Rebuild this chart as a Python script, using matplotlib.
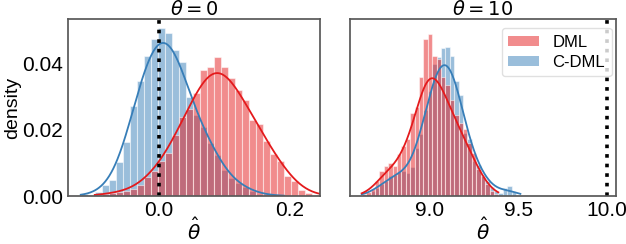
import numpy as np
import matplotlib
matplotlib.use('Agg')
import matplotlib.pyplot as plt
from matplotlib.patches import Patch

plt.rcParams['font.family'] = ['Liberation Sans', 'DejaVu Sans']

# histogram bins (common bins for both methods in each panel)
left_start, left_width, left_nbins = -0.1195, 0.0107, 35
right_start, right_width, right_nbins = 8.614, 0.02489, 36

# bar heights (probability)
dml_left = [0, 0, 0.0003, 0.0007, 0.0009, 0.0012, 0.0015, 0.0022, 0.0033, 0.0058,
            0.0076, 0.0107, 0.0129, 0.0185, 0.0239, 0.0263, 0.0312, 0.0383, 0.0391, 0.0422,
            0.0391, 0.0358, 0.0322, 0.0290, 0.0231, 0.0218, 0.0167, 0.0128, 0.0107, 0.0061,
            0.0046, 0.0017, 0.0009, 0.0003, 0.0002]
cdml_left = [0.0006, 0.0003, 0.0012, 0.0033, 0.0048, 0.0104, 0.0165, 0.0273, 0.0349, 0.0424,
             0.0474, 0.0508, 0.0493, 0.0442, 0.0406, 0.0299, 0.0246, 0.0210, 0.0160, 0.0124,
             0.0078, 0.0053, 0.0038, 0.0027, 0.0015, 0.0007, 0.0004, 0.0002, 0.0001, 0,
             0, 0, 0, 0, 0]
dml_right = [0.0006, 0.0012, 0.0020, 0.0045, 0.0075, 0.0092, 0.0099, 0.0090, 0.0128, 0.0150,
             0.0172, 0.0250, 0.0270, 0.0360, 0.0474, 0.0490, 0.0423, 0.0415, 0.0360, 0.0335,
             0.0292, 0.0246, 0.0220, 0.0202, 0.0160, 0.0129, 0.0081, 0.0061, 0.0035, 0.0015,
             0.0007, 0, 0, 0, 0, 0]
cdml_right = [0.0003, 0.0006, 0.0015, 0.0025, 0.0035, 0.0045, 0.0060, 0.0065, 0.0072, 0.0075,
              0.0070, 0.0088, 0.0144, 0.0188, 0.0261, 0.0317, 0.0400, 0.0420, 0.0449, 0.0451,
              0.0423, 0.0349, 0.0307, 0.0190, 0.0173, 0.0106, 0.0094, 0.0065, 0.0045, 0.0027,
              0.0015, 0.0010, 0.0023, 0.0030, 0.0012, 0.0003]

true_theta = [0, 10]
titles = [r'$\theta = 0$', r'$\theta = 10$']
labels = ['DML', 'C-DML']
red, blue = '#e41a1c', '#377eb8'


def kde_curve(edges, heights, n_obs=110):
    # smoothed curve from the binned values, scaled like the histogram
    heights = np.asarray(heights, dtype=float)
    centers = (edges[:-1] + edges[1:]) / 2
    width = edges[1] - edges[0]
    nz = np.nonzero(heights)[0]
    lo, hi = edges[nz[0]], edges[nz[-1] + 1]
    w = heights / heights.sum()
    mu = np.sum(w * centers)
    sd = np.sqrt(np.sum(w * (centers - mu) ** 2))
    bw = sd * n_obs ** (-0.2)
    xs = np.linspace(lo, hi, 300)
    dens = np.sum(w[:, None] * np.exp(-0.5 * ((xs[None, :] - centers[:, None]) / bw) ** 2), axis=0)
    dens /= bw * np.sqrt(2 * np.pi)
    return xs, dens * 0.5 * width


fig = plt.figure(figsize=(6.26, 2.44), dpi=100)
ax1 = fig.add_axes([68 / 626, 48 / 244, 252 / 626, 177 / 244])
ax2 = fig.add_axes([350 / 626, 48 / 244, 266 / 626, 177 / 244], sharey=ax1)

panels = [
    (ax1, left_start, left_width, left_nbins, dml_left, cdml_left),
    (ax2, right_start, right_width, right_nbins, dml_right, cdml_right),
]

for i, (ax, start, width, nb, dml, cdml) in enumerate(panels):
    edges = start + width * np.arange(nb + 1)
    # C-DML first, DML drawn on top
    for h, c in [(cdml, blue), (dml, red)]:
        ax.bar(edges[:-1], h, width=width, align='edge', color=c, alpha=0.5,
               edgecolor='white', linewidth=0.8)
    for h, c in [(cdml, blue), (dml, red)]:
        xs, ys = kde_curve(edges, h)
        ax.plot(xs, ys, color=c, lw=1.3)
    ax.axvline(true_theta[i], color='black', ls=':', lw=2.6)
    ax.set_title(titles[i], fontsize=14, pad=2)
    ax.set_xlabel(r'$\hat{\theta}$', fontsize=14.5, labelpad=-1)
    ax.tick_params(labelsize=15, length=0, pad=3.5)
    for sp in ax.spines.values():
        sp.set_color('0.35')
        sp.set_linewidth(1.25)

ax1.set_xlim(-0.139, 0.246)
ax1.set_xticks([0.0, 0.2])
ax1.set_ylim(0, 0.0536)
ax1.set_yticks([0.00, 0.02, 0.04])
ax1.set_yticklabels(['0.00', '0.02', '0.04'])
ax1.set_ylabel('density', fontsize=14, labelpad=1)

ax2.set_xlim(8.548, 10.05)
ax2.set_xticks([9.0, 9.5, 10.0])
ax2.tick_params(labelleft=False)

handles = [Patch(facecolor=red, alpha=0.5), Patch(facecolor=blue, alpha=0.5)]
ax2.legend(handles, labels, loc='upper right', fontsize=12, frameon=True,
           handlelength=1.85, handleheight=0.6, handletextpad=0.8, borderpad=0.4,
           labelspacing=0.3, borderaxespad=0, edgecolor='0.85',
           bbox_to_anchor=(0.984, 0.949))

fig.savefig('out.png', dpi=100)
